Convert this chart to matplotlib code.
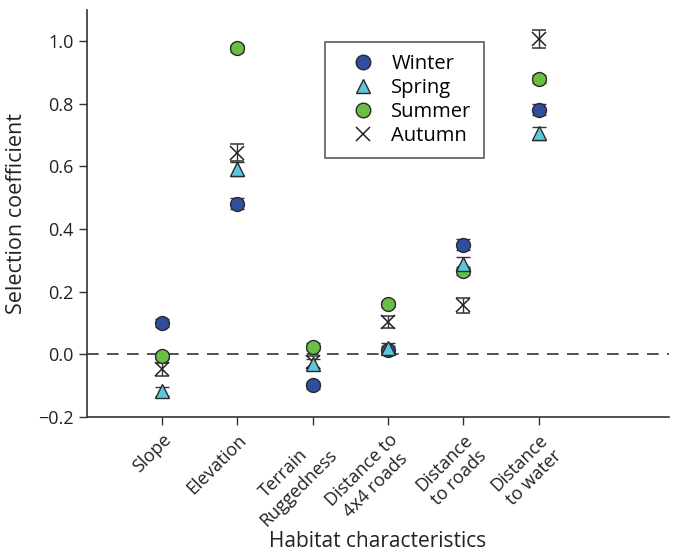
import matplotlib
matplotlib.use("Agg")
import matplotlib.pyplot as plt
import numpy as np
from matplotlib.lines import Line2D

plt.rcParams['font.family'] = ['Open Sans', 'DejaVu Sans']

categories = ["Slope", "Elevation", "Terrain\nRuggedness", "Distance to\n4x4 roads",
              "Distance\nto roads", "Distance\nto water"]
winter = [0.10, 0.481, -0.099, 0.015, 0.350, 0.782]
winter_err = [0.012, 0.018, 0.012, 0.012, 0.018, 0.018]
spring = [-0.118, 0.592, -0.030, 0.020, 0.290, 0.706]
spring_err = [0.015, 0.022, 0.015, 0.015, 0.020, 0.020]
summer = [-0.005, 0.977, 0.025, 0.162, 0.266, 0.879]
summer_err = [0.010, 0.012, 0.010, 0.010, 0.012, 0.012]
autumn = [-0.048, 0.644, -0.025, 0.104, 0.157, 1.008]
autumn_err = [0.020, 0.027, 0.020, 0.020, 0.024, 0.028]

fig = plt.figure(figsize=(6.78, 5.52), dpi=100)
ax = fig.add_axes([0.128, 0.2446, 0.859, 0.7374])

x = np.arange(1, len(categories) + 1)
edge = '#2a2a2a'
ax.axhline(0, color='#333333', lw=1.2, dashes=(7, 5), zorder=1)

ax.errorbar(x, autumn, yerr=autumn_err, fmt='x', color='#222222', ms=9.5, mew=1.1,
            ecolor='#333333', elinewidth=1.0, capsize=5, capthick=1.2, zorder=3, label='Autumn')
ax.errorbar(x, summer, yerr=summer_err, fmt='o', mfc='#6cbd45', mec=edge, ms=10, mew=1.0,
            ecolor='#333333', elinewidth=1.0, capsize=5, capthick=1.2, zorder=4, label='Summer')
ax.errorbar(x, winter, yerr=winter_err, fmt='o', mfc='#2f4f9e', mec=edge, ms=10, mew=1.0,
            ecolor='#333333', elinewidth=1.0, capsize=5, capthick=1.2, zorder=5, label='Winter')
ax.errorbar(x, spring, yerr=spring_err, fmt='^', mfc='#5cc6da', mec=edge, ms=10, mew=1.0,
            ecolor='#333333', elinewidth=1.0, capsize=5, capthick=1.2, zorder=6, label='Spring')

ax.set_xlim(0, 7.73)
ax.set_ylim(-0.2, 1.1)
ax.set_yticks([-0.2, 0.0, 0.2, 0.4, 0.6, 0.8, 1.0])
ax.set_yticklabels(['\u22120.2', '0.0', '0.2', '0.4', '0.6', '0.8', '1.0'])
ax.set_xticks(x)
ax.set_xticklabels(categories, rotation=45, ha='right', va='top', rotation_mode='anchor',
                   multialignment='center')
ax.tick_params(axis='both', labelsize=13, length=6, width=1.0, color='#333333', labelcolor='#222222')
ax.tick_params(axis='x', pad=4)

for s in ['top', 'right']:
    ax.spines[s].set_visible(False)
for s in ['left', 'bottom']:
    ax.spines[s].set_color('#333333')
    ax.spines[s].set_linewidth(1.2)

ax.set_ylabel('Selection coefficient', fontsize=15.5, color='#222222', labelpad=8)
fig.text(378 / 678, 1 - 547 / 552, 'Habitat characteristics', fontsize=15, color='#222222',
         ha='center', va='baseline')

handles = [
    Line2D([], [], marker='o', ls='', mfc='#2f4f9e', mec=edge, ms=10.5, mew=1.0),
    Line2D([], [], marker='^', ls='', mfc='#5cc6da', mec=edge, ms=9.5, mew=1.0),
    Line2D([], [], marker='o', ls='', mfc='#6cbd45', mec=edge, ms=10.5, mew=1.0),
    Line2D([], [], marker='x', ls='', color='#222222', ms=9.5, mew=1.1),
]
leg = ax.legend(handles, ['Winter', 'Spring', 'Summer', 'Autumn'], loc='upper left',
                bbox_to_anchor=((325 - 87) / 582, 1 - (42 - 10) / 407),
                borderaxespad=0, fontsize=14.5, frameon=True, fancybox=False,
                edgecolor='#333333', handletextpad=0.1, labelspacing=0.2,
                borderpad=0.6, handlelength=2.6)
leg.get_frame().set_linewidth(1.2)

fig.savefig('out.png', dpi=100)
